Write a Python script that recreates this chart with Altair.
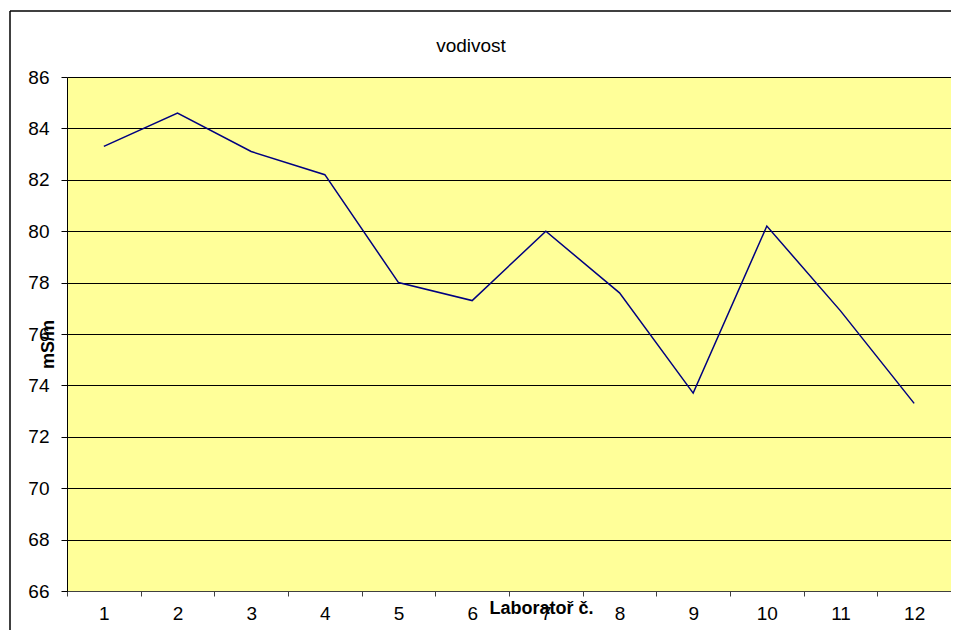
import altair as alt
import pandas as pd

labs = [str(i) for i in range(1, 13)]
values = [83.3, 84.6, 83.1, 82.2, 78.0, 77.3, 80.0, 77.6, 73.7, 80.2, 76.9, 73.3]
y_ticks = list(range(66, 87, 2))
title_text = "vodivost"
x_title = "Laboratoř č."
y_title = "mS/m"

df = pd.DataFrame({"lab": labs, "val": values})

FONT = "Liberation Sans"
W, H = 884, 514

line = alt.Chart(df).mark_line(color="#000080", strokeWidth=1.5).encode(
    x=alt.X("lab:O", sort=labs, bandPosition=0.5,
            scale=alt.Scale(type="band", paddingInner=0, paddingOuter=0),
            axis=alt.Axis(title=x_title, labelAngle=0, tickBand="extent",
                          labelFontSize=19, labelFont=FONT, labelColor="#000000",
                          labelPadding=8, tickSize=5, tickColor="#404040",
                          domainColor="#404040", grid=False,
                          titleFont=FONT, titleFontSize=18, titleFontWeight="bold",
                          titleColor="#000000", titleX=474, titleY=17,
                          titleAlign="center", titleBaseline="middle")),
    y=alt.Y("val:Q", scale=alt.Scale(domain=[66, 86], nice=False, zero=False),
            axis=alt.Axis(title=y_title, values=y_ticks, labelFontSize=19,
                          labelFont=FONT, labelColor="#000000", labelPadding=12,
                          tickSize=6, tickColor="#000000", domainColor="#000000",
                          grid=True, gridColor="#000000", gridOpacity=1, gridWidth=1,
                          titleFont=FONT, titleFontSize=18, titleFontWeight="bold",
                          titleColor="#000000", titleAngle=270, titleX=-19, titleY=267,
                          titleAlign="center", titleBaseline="middle")),
)

one = pd.DataFrame({"t": [title_text]})
title = alt.Chart(one).mark_text(font=FONT, fontSize=19, color="#000000",
                                 align="center", baseline="alphabetic").encode(
    text="t:N", x=alt.value(404), y=alt.value(-25))

frame_left = alt.Chart(one).mark_rule(color="#000000", strokeWidth=1.5).encode(
    x=alt.value(-57), y=alt.value(-66), y2=alt.value(H + 60))
frame_top = alt.Chart(one).mark_rule(color="#000000", strokeWidth=1.5).encode(
    x=alt.value(-57), x2=alt.value(W + 20), y=alt.value(-66))

chart = alt.layer(frame_left, frame_top, line, title).properties(
    width=W, height=H,
    background="#FFFFFF",
    autosize=alt.AutoSizeParams(type="none"),
    padding={"left": 59, "top": 69, "right": 0, "bottom": 39},
).configure_view(fill="#FFFF99", stroke=None)

chart.save("out.html", embed_options={"renderer": "svg", "actions": False})
